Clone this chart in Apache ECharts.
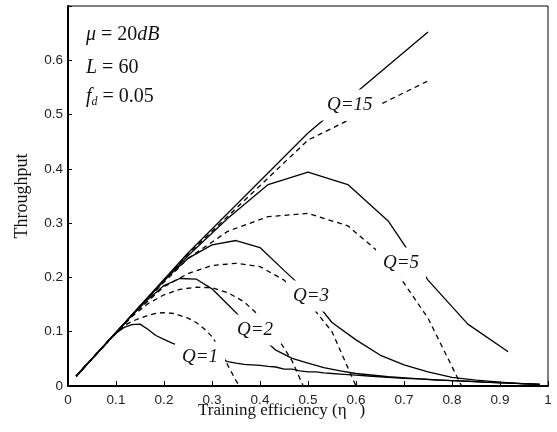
<!DOCTYPE html>
<html><head><meta charset="utf-8">
<script src="https://cdn.jsdelivr.net/npm/echarts@6/dist/echarts.min.js"></script>
<style>html,body{margin:0;padding:0;background:#fff}#c{width:557px;height:432px}</style>
</head><body><div id="c"></div>
<script>
const xTickLabels = ['0','0.1','0.2','0.3','0.4','0.5','0.6','0.7','0.8','0.9','1'];
const yTickLabels = ['0','0.1','0.2','0.3','0.4','0.5','0.6',''];

const q15Solid = [[0.017,0.018],[0.25,0.245],[0.5,0.466],[0.75,0.652]];
const q15Dash  = [[0.017,0.018],[0.25,0.243],[0.5,0.453],[0.75,0.562]];

const q5Solid = [[0.017,0.018],[0.083,0.082],[0.167,0.163],[0.25,0.24],[0.333,0.309],[0.417,0.371],[0.5,0.394],[0.583,0.371],[0.667,0.304],[0.75,0.195],[0.833,0.114],[0.917,0.063]];
const q5Dash  = [[0.017,0.018],[0.083,0.082],[0.167,0.162],[0.25,0.235],[0.333,0.285],[0.417,0.312],[0.5,0.318],[0.583,0.295],[0.667,0.232],[0.75,0.125],[0.82,0]];

const q3Solid = [[0.017,0.018],[0.05,0.05],[0.1,0.098],[0.15,0.147],[0.2,0.195],[0.25,0.235],[0.3,0.26],[0.35,0.268],[0.4,0.255],[0.45,0.213],[0.5,0.172],[0.55,0.117],[0.6,0.085],[0.65,0.057],[0.7,0.039],[0.75,0.026],[0.8,0.016],[0.85,0.011],[0.9,0.007],[0.95,0.004],[0.983,0.003]];
const q3Dash  = [[0.017,0.018],[0.05,0.05],[0.1,0.098],[0.15,0.143],[0.2,0.183],[0.25,0.207],[0.3,0.222],[0.35,0.226],[0.4,0.22],[0.45,0.195],[0.5,0.155],[0.55,0.1],[0.6,0]];

const q2Solid = [[0.017,0.018],[0.033,0.034],[0.067,0.067],[0.1,0.098],[0.133,0.13],[0.167,0.16],[0.2,0.185],[0.233,0.198],[0.267,0.197],[0.3,0.179],[0.333,0.15],[0.367,0.12],[0.4,0.092],[0.433,0.066],[0.467,0.051],[0.5,0.042],[0.533,0.034],[0.567,0.028],[0.6,0.023],[0.667,0.017],[0.733,0.013],[0.8,0.01],[0.867,0.007],[0.933,0.005],[0.983,0.003]];
const q2Dash  = [[0.017,0.018],[0.033,0.034],[0.067,0.067],[0.1,0.098],[0.133,0.128],[0.167,0.152],[0.2,0.168],[0.233,0.178],[0.267,0.182],[0.3,0.181],[0.333,0.172],[0.367,0.155],[0.4,0.128],[0.433,0.094],[0.467,0.046],[0.49,0]];

const q1Solid = [[0.017,0.018],[0.033,0.034],[0.05,0.05],[0.067,0.066],[0.083,0.082],[0.1,0.097],[0.117,0.108],[0.133,0.113],[0.15,0.114],[0.167,0.104],[0.183,0.093],[0.2,0.086],[0.217,0.079],[0.233,0.074],[0.25,0.07],[0.267,0.065],[0.283,0.06],[0.3,0.055],[0.317,0.05],[0.333,0.045],[0.35,0.042],[0.367,0.04],[0.383,0.039],[0.4,0.038],[0.417,0.036],[0.433,0.035],[0.45,0.031],[0.467,0.031],[0.483,0.028],[0.5,0.026],[0.517,0.026],[0.533,0.024],[0.55,0.023],[0.567,0.022],[0.583,0.021],[0.6,0.02],[0.633,0.018],[0.667,0.016],[0.7,0.014],[0.733,0.013],[0.767,0.011],[0.8,0.01],[0.833,0.009],[0.867,0.007],[0.9,0.006],[0.933,0.005],[0.967,0.004],[0.983,0.003]];
const q1Dash  = [[0.017,0.018],[0.033,0.034],[0.05,0.05],[0.067,0.066],[0.083,0.082],[0.1,0.097],[0.117,0.111],[0.133,0.119],[0.15,0.125],[0.167,0.13],[0.183,0.134],[0.2,0.135],[0.217,0.134],[0.233,0.13],[0.25,0.125],[0.267,0.117],[0.283,0.106],[0.3,0.091],[0.317,0.068],[0.333,0.038],[0.35,0.01],[0.357,0]];

const curves = [
  {name:'Q=15 solid', data:q15Solid, dash:false},
  {name:'Q=15 dashed', data:q15Dash, dash:true},
  {name:'Q=5 solid', data:q5Solid, dash:false},
  {name:'Q=5 dashed', data:q5Dash, dash:true},
  {name:'Q=3 solid', data:q3Solid, dash:false},
  {name:'Q=3 dashed', data:q3Dash, dash:true},
  {name:'Q=2 solid', data:q2Solid, dash:false},
  {name:'Q=2 dashed', data:q2Dash, dash:true},
  {name:'Q=1 solid', data:q1Solid, dash:false},
  {name:'Q=1 dashed', data:q1Dash, dash:true}
];

const serif = 'Liberation Serif';
const qLabel = (text, x, y) => ({
  type:'text', x:x - 7, y:y - 1, z:50,
  style:{text:text, fill:'#111', font:'italic 19px "Liberation Serif"', align:'left', verticalAlign:'middle',
         backgroundColor:'#fff', padding:[7,7,5,7]}
});

const chart = echarts.init(document.getElementById('c'), null, {renderer:'canvas'});
chart.setOption({
  animation:false,
  backgroundColor:'#fff',
  grid:{left:68, right:9, top:6, bottom:46, show:true, borderColor:'#000', borderWidth:1},
  xAxis:{type:'value', min:0, max:1, interval:0.1,
    axisLine:{show:true, lineStyle:{color:'#000', width:2}},
    axisTick:{show:true, inside:true, length:5, lineStyle:{color:'#000', width:1}},
    splitLine:{show:false},
    axisLabel:{color:'#222', fontFamily:'Liberation Sans', fontSize:13.5, margin:7,
      formatter:v => xTickLabels[Math.round(v*10)]}
  },
  yAxis:{type:'value', min:0, max:0.7, interval:0.1,
    axisLine:{show:true, lineStyle:{color:'#000', width:2}},
    axisTick:{show:true, inside:true, length:4, lineStyle:{color:'#000', width:1}},
    splitLine:{show:false},
    axisLabel:{color:'#222', fontFamily:'Liberation Sans', fontSize:13.5, margin:5,
      formatter:v => yTickLabels[Math.round(v*10)]}
  },
  series: curves.map(c => ({
    name:c.name, type:'line', data:c.data, symbol:'none', showSymbol:false, clip:true,
    lineStyle:{color:'#000', width:1.3, type: c.dash ? [5,4] : 'solid'}, z:2
  })),
  graphic:{elements:[
    {type:'text', x:86, y:35, z:50, style:{text:'{i|μ} = 20{i|dB}', font:'20px "Liberation Serif"', fill:'#111', verticalAlign:'middle',
      rich:{i:{fontStyle:'italic', fontFamily:serif, fontSize:20}}}},
    {type:'text', x:86, y:68, z:50, style:{text:'{i|L} = 60', font:'20px "Liberation Serif"', fill:'#111', verticalAlign:'middle',
      rich:{i:{fontStyle:'italic', fontFamily:serif, fontSize:20}}}},
    {type:'text', x:86, y:97, z:50, style:{text:'{i|f}{s|d} = 0.05', font:'20px "Liberation Serif"', fill:'#111', verticalAlign:'middle',
      rich:{i:{fontStyle:'italic', fontFamily:serif, fontSize:20}, s:{fontStyle:'italic', fontFamily:serif, fontSize:12, padding:[10,0,0,0]}}}},
    qLabel('Q=15', 327, 106),
    qLabel('Q=5', 383, 264),
    qLabel('Q=3', 293, 297),
    qLabel('Q=2', 237, 331),
    qLabel('Q=1', 182, 358),
    {type:'text', x:198, y:411, z:50, style:{text:'Training efficiency (η   )', font:'17px "Liberation Serif"', fill:'#111', verticalAlign:'middle'}},
    {type:'text', x:22, y:196, rotation:Math.PI/2, z:50, style:{text:'Throughput', font:'18px "Liberation Serif"', fill:'#111', align:'center', verticalAlign:'middle'}}
  ]}
});
</script></body></html>
